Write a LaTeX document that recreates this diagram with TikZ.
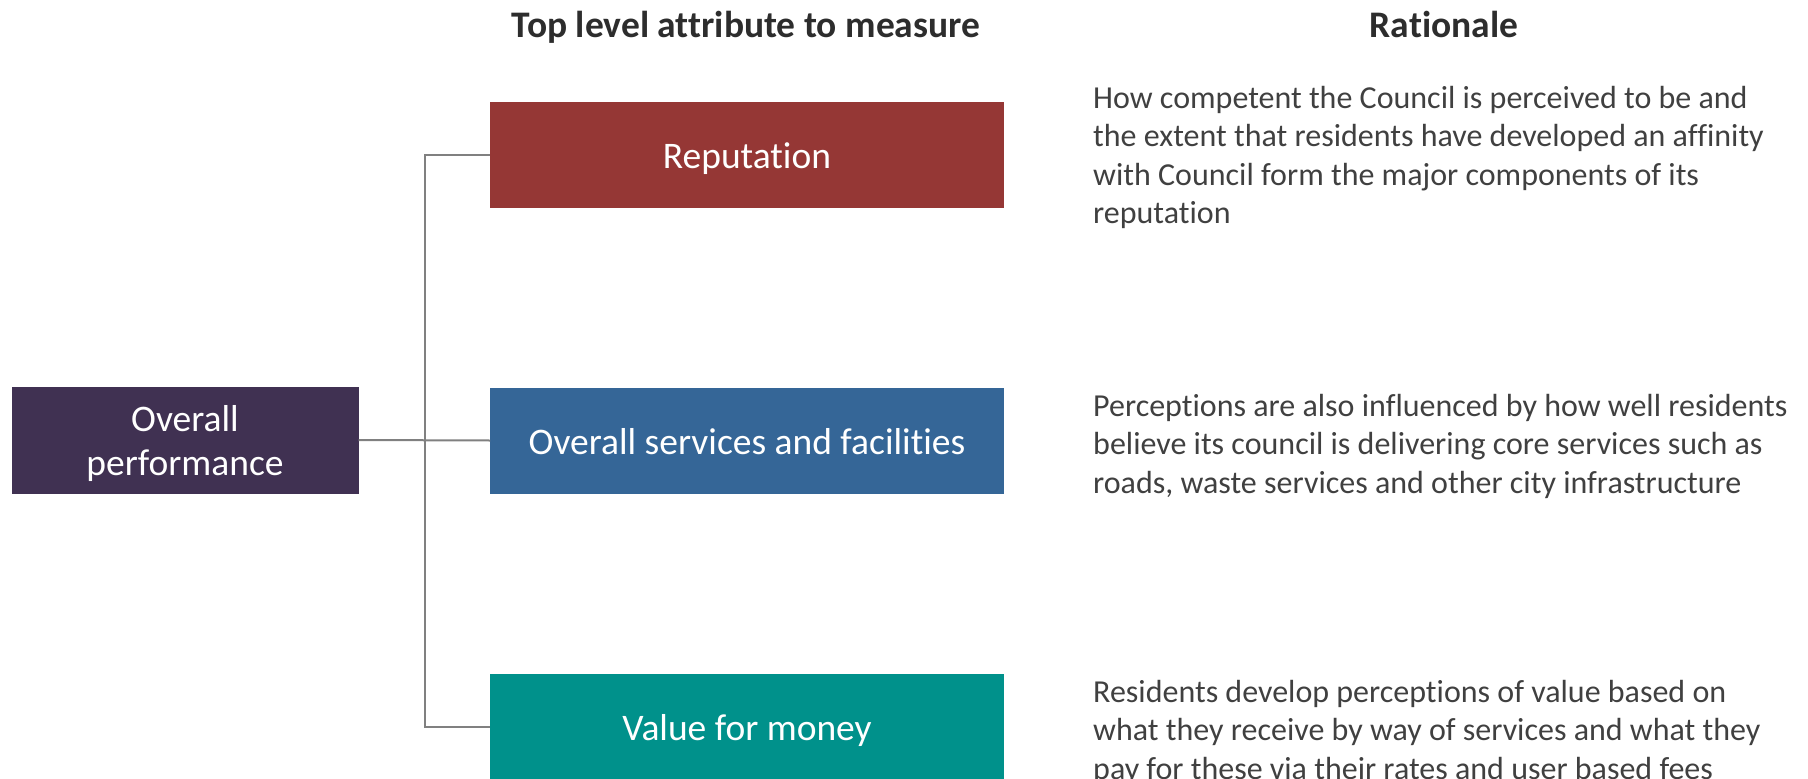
\documentclass[tikz,border=0pt]{standalone}
\usepackage{fontspec}
\setmainfont{Carlito}[Ligatures={NoCommon}]
\usepackage{xcolor}
\definecolor{ciruela}{RGB}{64,49,82}
\definecolor{granate}{RGB}{149,55,53}
\definecolor{azulAcero}{RGB}{53,102,151}
\definecolor{verdeAzul}{RGB}{0,145,139}
\definecolor{grisTexto}{RGB}{64,64,64}
\definecolor{grisLinea}{RGB}{128,128,128}
\usetikzlibrary{positioning}
\tikzstyle{edge}  =[line width=2pt, grisLinea]
\tikzstyle{caja}  =[rectangle, inner sep=0pt, outer sep=0pt,
                    text=white, align=center, text depth=0pt,
                    font=\fontsize{37.5}{44}\selectfont]
\tikzstyle{attr}  =[caja, minimum width=514pt, minimum height=106pt,
                    text height=27.5pt]
\tikzstyle{razon} =[anchor=base west, inner sep=0pt, align=left,
                    text=grisTexto, font=\fontsize{32}{38.5}\selectfont]
\tikzstyle{cabeza}=[anchor=base, inner sep=0pt, text=grisTexto!70!black,
                    font=\fontsize{37.5}{40}\selectfont\bfseries]

\begin{document}
\begin{tikzpicture}[x=1pt,y=-1pt]
    \useasboundingbox (0,0) rectangle (1808,779);

    \node[cabeza] (hAttr) at (746,37) {Top level attribute to measure};
    \node[cabeza] (hRaz)  at (1444,37) {Rationale};

    \node[caja, fill=ciruela, minimum width=347pt, minimum height=107pt]
        (over) at (185,440) {Overall\\performance};

    \foreach \n/\y/\c/\t in
        {rep/154.5/granate/Reputation,
         serv/440.5/azulAcero/Overall services and facilities,
         val/727/verdeAzul/Value for money}
        \node[attr, fill=\c] (\n) at (747,\y) {\t};

    \coordinate (trunk) at (424.5,440);
    \draw [edge] (over.east) -- (serv.west);
    \draw [edge] (rep.west) -| (trunk) |- (val.west);

    % base anchor sits on the last line
    \node[razon] (rRep) at (1093,223.5)
        {How competent the Council is perceived to be and\\
         the extent that residents have developed an affinity\\
         with Council form the major components of its\\
         reputation};
    \node[razon] (rServ) at (1093,493)
        {Perceptions are also influenced by how well residents\\
         believe its council is delivering core services such as\\
         roads, waste services and other city infrastructure};
    \node[razon] (rVal) at (1093,779)
        {Residents develop perceptions of value based on\\
         what they receive by way of services and what they\\
         pay for these via their rates and user based fees};
\end{tikzpicture}
\end{document}
